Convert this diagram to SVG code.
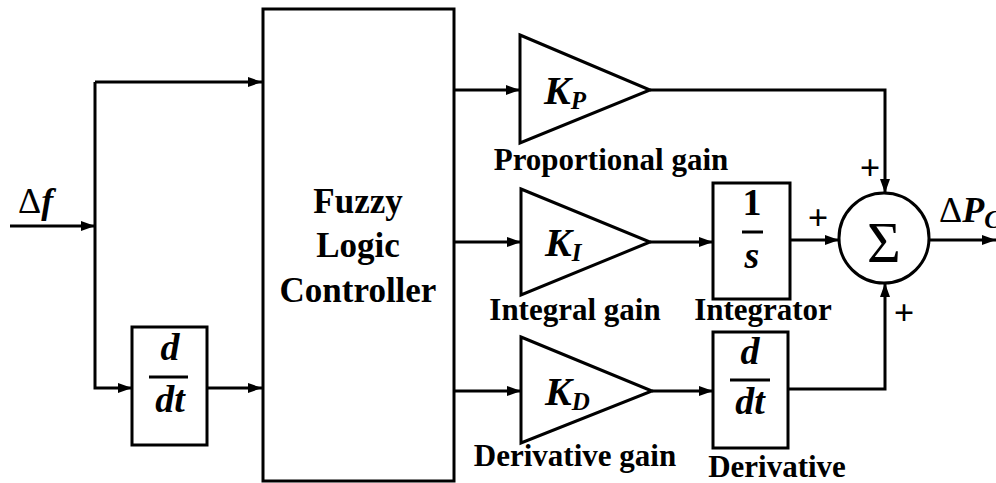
<svg xmlns="http://www.w3.org/2000/svg" width="996" height="483" viewBox="0 0 996 483">
<style>
.blk{fill:#fff;stroke:#000;stroke-width:3}
.ln{fill:none;stroke:#000;stroke-width:3}
text{font-family:'Liberation Serif','Times New Roman','DejaVu Serif',serif;fill:#000}
.lbl{font-weight:bold;font-size:31px}
.flc{font-weight:bold;font-size:35px}
.mi{font-weight:bold;font-style:italic;font-size:38px}
.k{font-weight:bold;font-style:italic;font-size:40px}
.sub{font-size:25px}
.pl{font-weight:bold;font-size:36px}
</style>
<defs>
<marker id="ah" viewBox="0 0 14 10" refX="14" refY="5" markerWidth="14" markerHeight="10" markerUnits="userSpaceOnUse" orient="auto">
<path d="M0,0 L14,5 L0,10 Z" fill="#000"/>
</marker>
</defs>
<g id="connectors">
<line class="ln" x1="10" y1="226" x2="95" y2="226" marker-end="url(#ah)"/>
<polyline class="ln" points="95,82 95,388 132,388" marker-end="url(#ah)"/>
<line class="ln" x1="95" y1="82" x2="262" y2="82" marker-end="url(#ah)"/>
<line class="ln" x1="207" y1="388" x2="262" y2="388" marker-end="url(#ah)"/>
<line class="ln" x1="454" y1="90" x2="520" y2="90" marker-end="url(#ah)"/>
<line class="ln" x1="454" y1="242" x2="521" y2="242" marker-end="url(#ah)"/>
<line class="ln" x1="454" y1="391" x2="521" y2="391" marker-end="url(#ah)"/>
<polyline class="ln" points="650,90 885,90 885,193" marker-end="url(#ah)"/>
<line class="ln" x1="650" y1="242" x2="713" y2="242" marker-end="url(#ah)"/>
<line class="ln" x1="652" y1="391" x2="713" y2="391" marker-end="url(#ah)"/>
<line class="ln" x1="790" y1="240" x2="839" y2="240" marker-end="url(#ah)"/>
<polyline class="ln" points="788,389 885,389 885,283" marker-end="url(#ah)"/>
<line class="ln" x1="929" y1="240" x2="996" y2="240" marker-end="url(#ah)"/>
</g>
<g id="input-label">
<text class="mi" x="18" y="213" style="font-size:36px"><tspan style="font-style:normal;font-weight:normal">Δ</tspan>f</text>
</g>
<g id="ddt-input">
<rect class="blk" x="132" y="327" width="75" height="118"/>
<text class="mi" x="170" y="360" text-anchor="middle">d</text>
<line class="ln" x1="149" y1="377" x2="188" y2="377"/>
<text class="mi" x="170" y="412" text-anchor="middle">dt</text>
</g>
<g id="flc">
<rect class="blk" x="263" y="9" width="191" height="472"/>
<text class="flc" x="358" y="213" text-anchor="middle">Fuzzy</text>
<text class="flc" x="358" y="257" text-anchor="middle">Logic</text>
<text class="flc" x="358" y="302" text-anchor="middle">Controller</text>
</g>
<g id="kp">
<polygon class="blk" points="520,35 650,90 520,143"/>
<text class="k" x="544" y="104">K<tspan class="sub" dy="5">P</tspan></text>
<text class="lbl" x="611" y="170" text-anchor="middle">Proportional gain</text>
</g>
<g id="ki">
<polygon class="blk" points="521,189 650,242 521,295"/>
<text class="k" x="545" y="256">K<tspan class="sub" dy="5">I</tspan></text>
<text class="lbl" x="575" y="320" text-anchor="middle">Integral gain</text>
</g>
<g id="kd">
<polygon class="blk" points="521,337 652,391 521,443"/>
<text class="k" x="545" y="405">K<tspan class="sub" dy="5">D</tspan></text>
<text class="lbl" x="575" y="466" text-anchor="middle">Derivative gain</text>
</g>
<g id="integrator">
<rect class="blk" x="713" y="183" width="77" height="116"/>
<text class="mi" x="752" y="215" text-anchor="middle" style="font-style:normal">1</text>
<line class="ln" x1="742" y1="232" x2="763" y2="232"/>
<text class="mi" x="752" y="268" text-anchor="middle">s</text>
<text class="lbl" x="763" y="320" text-anchor="middle">Integrator</text>
</g>
<g id="derivative">
<rect class="blk" x="713" y="332" width="75" height="116"/>
<text class="mi" x="750" y="364" text-anchor="middle">d</text>
<line class="ln" x1="730" y1="380" x2="770" y2="380"/>
<text class="mi" x="750" y="414" text-anchor="middle">dt</text>
<text class="lbl" x="777" y="477" text-anchor="middle">Derivative</text>
</g>
<g id="sum">
<circle class="blk" cx="884" cy="238" r="45"/>
<text x="884" y="262" style="font-size:58px" text-anchor="middle">Σ</text>
<text class="pl" x="870" y="180" text-anchor="middle">+</text>
<text class="pl" x="818" y="230" text-anchor="middle">+</text>
<text class="pl" x="904" y="325" text-anchor="middle">+</text>
</g>
<g id="output-label">
<text class="mi" x="939" y="222" style="font-size:36px"><tspan style="font-style:normal;font-weight:normal">Δ</tspan>P<tspan class="sub" dy="6">C</tspan></text>
</g>
</svg>
